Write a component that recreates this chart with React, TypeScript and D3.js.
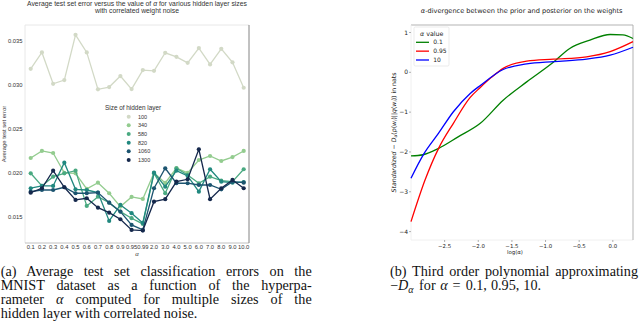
import React, { useLayoutEffect, useRef } from 'react';
import * as d3 from 'd3';

// ---------- Left chart data ----------
const alphaLabels = ['0.1','0.2','0.3','0.4','0.5','0.6','0.7','0.8','0.9','0.95','0.99','2.0','3.0','4.0','5.0','6.0','7.0','8.0','9.0','10.0'];
const hiddenSizes = ['100','340','580','820','1060','1300'];
const err100 = [0.03182,0.03368,0.03011,0.03053,0.03568,0.03368,0.02948,0.02974,0.03099,0.02951,0.03167,0.03159,0.03364,0.03318,0.0325,0.03417,0.03232,0.03409,0.03255,0.02966];
const err340 = [0.02167,0.02247,0.02224,0.01997,0.01993,0.01815,0.01886,0.01766,0.01614,0.01724,0.01701,0.01997,0.01883,0.02053,0.01997,0.02144,0.0219,0.02133,0.02178,0.02247];
const err580 = [0.01993,0.01849,0.01955,0.01993,0.02023,0.01622,0.01727,0.01659,0.01557,0.01482,0.01417,0.01993,0.01766,0.0205,0.01974,0.0188,0.01955,0.01909,0.01898,0.02039];
const err820 = [0.01823,0.01849,0.01849,0.02114,0.01811,0.01803,0.01773,0.01451,0.01633,0.01539,0.01428,0.02,0.01841,0.02023,0.01963,0.01784,0.02039,0.01898,0.01886,0.01894];
const err1060 = [0.01784,0.01803,0.01803,0.01834,0.01766,0.01766,0.01773,0.01659,0.01557,0.01406,0.01349,0.01823,0.0205,0.0188,0.0188,0.0186,0.0186,0.01811,0.01898,0.01886];
const err1300 = [0.01773,0.01823,0.02023,0.01834,0.0169,0.01709,0.01602,0.01545,0.0147,0.01349,0.01341,0.0167,0.01698,0.01898,0.01925,0.02266,0.01698,0.01823,0.01917,0.01823];
const errTicks = [0.015, 0.020, 0.025, 0.030, 0.035];
const sizeColors = ['#d2d9c6', '#93cc8f', '#4aa981', '#21887f', '#1c5470', '#15284c'];

// ---------- Right chart data ----------
const curveAlphas = ['0.1', '0.95', '10'];
const logA01 = [-3.0, -2.82, -2.59, -2.3, -1.97, -1.63, -1.28, -0.88, -0.64, -0.34, -0.04, 0.15, 0.3];
const div01 = [-2.10, -2.07, -1.91, -1.62, -1.28, -0.70, -0.24, 0.26, 0.60, 0.81, 0.95, 0.94, 0.85];
const logA095 = [-3.0, -2.79, -2.59, -2.37, -2.12, -1.97, -1.8, -1.63, -1.28, -0.88, -0.39, -0.04, 0.3];
const div095 = [-3.75, -2.70, -1.91, -1.28, -0.63, -0.38, -0.12, 0.10, 0.28, 0.33, 0.39, 0.52, 0.77];
const logA10 = [-3.0, -2.82, -2.59, -2.37, -2.12, -1.97, -1.63, -1.28, -0.88, -0.39, -0.04, 0.3];
const div10 = [-2.66, -2.08, -1.53, -0.99, -0.53, -0.33, 0.07, 0.21, 0.27, 0.33, 0.43, 0.63];
const logATicks = [-2.5, -2.0, -1.5, -1.0, -0.5, 0.0];
const divTicks = [1, 0, -1, -2, -3, -4];
const curveColors = ['#008000', '#ff0000', '#0000ff'];

const SANS = 'Liberation Sans, Arial, sans-serif';
const DJ = 'DejaVu Sans, sans-serif';
const SERIF = 'Liberation Serif, Times New Roman, serif';

function LeftChart() {
  const series = [err100, err340, err580, err820, err1060, err1300];
  const x = d3.scalePoint<string>().domain(alphaLabels).range([30.7, 243.7]);
  const y = d3.scaleLinear().domain([0.0120, 0.0368]).range([243, 25]);
  const line = d3.line<number>().x((_, i) => x(alphaLabels[i]) as number).y(d => y(d));
  const fmt = d3.format('.3f');
  const L = 25, R = 249, T = 25, B = 243;
  return (
    <g>
      <text x={137} y={5.5} textAnchor="middle" fontFamily={SANS} fontSize={6.8} fill="#333">
        Average test set error versus the value of <tspan fontStyle="italic">α</tspan> for various hidden layer sizes
      </text>
      <text x={137} y={13.2} textAnchor="middle" fontFamily={SANS} fontSize={6.8} fill="#333">with correlated weight noise</text>
      <line x1={L} x2={R} y1={T} y2={T} stroke="#e8e8e8" strokeWidth={1} />
      <line x1={L} x2={L} y1={T} y2={B} stroke="#e8e8e8" strokeWidth={1} />
      <line x1={L} x2={R} y1={B} y2={B} stroke="#b0b0b0" strokeWidth={0.8} />
      <line x1={R} x2={R} y1={T} y2={B} stroke="#777" strokeWidth={0.9} />
      {errTicks.map(t => (
        <text key={t} x={22.5} y={y(t) + 2} textAnchor="end" fontFamily={SANS} fontSize={5.8} fill="#333">{fmt(t)}</text>
      ))}
      {alphaLabels.map(a => (
        <text key={a} x={x(a)} y={249.3} textAnchor="middle" fontFamily={SANS} fontSize={5.8} fill="#333">{a}</text>
      ))}
      <text x={137} y={256} textAnchor="middle" fontFamily={SANS} fontSize={6} fontStyle="italic" fill="#333">α</text>
      <text transform="translate(6,134) rotate(-90)" textAnchor="middle" fontFamily={SANS} fontSize={5.9} fill="#333">Average test set error</text>
      {series.map((s, si) => (
        <g key={si}>
          <path d={line(s) as string} fill="none" stroke={sizeColors[si]} strokeWidth={1.3} />
          {s.map((v, i) => (
            <circle key={i} cx={x(alphaLabels[i])} cy={y(v)} r={2.1} fill={sizeColors[si]} />
          ))}
        </g>
      ))}
      <text x={105} y={110} fontFamily={SANS} fontSize={6.4} fill="#333">Size of hidden layer</text>
      {hiddenSizes.map((s, i) => (
        <g key={s}>
          <circle cx={128.7} cy={116.7 + i * 8.66} r={2} fill={sizeColors[i]} />
          <text x={138} y={116.7 + i * 8.66 + 1.9} fontFamily={SANS} fontSize={5.5} fill="#333">{s}</text>
        </g>
      ))}
    </g>
  );
}

function RightChart() {
  const x = d3.scaleLinear().domain([-3.0, 0.3]).range([411, 633]);
  const y = d3.scaleLinear().domain([1, -4]).range([32.5, 231.6]);
  const L = 411, R = 633, T = 25, B = 240;
  const data = [
    logA01.map((v, i) => [v, div01[i]] as [number, number]),
    logA095.map((v, i) => [v, div095[i]] as [number, number]),
    logA10.map((v, i) => [v, div10[i]] as [number, number]),
  ];
  const line = d3.line<[number, number]>().x(d => x(d[0])).y(d => y(d[1])).curve(d3.curveMonotoneX);
  const fy = d3.format('d');
  const fx = d3.format('.1f');
  return (
    <g>
      <text x={521.7} y={13.3} textAnchor="middle" fontFamily={DJ} fontSize={6.6} fill="#222">
        <tspan fontStyle="italic">α</tspan>-divergence between the prior and posterior on the weights
      </text>
      <line x1={L} x2={R} y1={T} y2={T} stroke="#aaa" strokeWidth={0.9} />
      <line x1={L} x2={L} y1={T} y2={B} stroke="#ececec" strokeWidth={0.8} />
      <line x1={L} x2={R} y1={B} y2={B} stroke="#ececec" strokeWidth={0.8} />
      <line x1={R} x2={R} y1={T} y2={B} stroke="#aaa" strokeWidth={0.9} />
      {divTicks.map(t => (
        <g key={t}>
          <line x1={409} x2={411} y1={y(t)} y2={y(t)} stroke="#666" strokeWidth={0.5} />
          <text x={408} y={y(t) + 2.1} textAnchor="end" fontFamily={DJ} fontSize={6} fill="#222">{fy(t)}</text>
        </g>
      ))}
      {logATicks.map(t => (
        <g key={t}>
          <line x1={x(t)} x2={x(t)} y1={B} y2={B + 2} stroke="#666" strokeWidth={0.5} />
          <text x={x(t)} y={248.3} textAnchor="middle" fontFamily={DJ} fontSize={5.4} fill="#222">{fx(t)}</text>
        </g>
      ))}
      <text x={515} y={254} textAnchor="middle" fontFamily={DJ} fontSize={5.4} fill="#222">log(α)</text>
      <text transform="translate(396,132.5) rotate(-90)" textAnchor="middle" fontFamily={DJ} fontSize={6.2} fill="#222">
        <tspan fontStyle="italic">Standardized</tspan> − <tspan fontStyle="italic">D</tspan><tspan fontStyle="italic" fontSize={4.4} dy={1.2}>α</tspan><tspan dy={-1.2}>(</tspan><tspan fontStyle="italic">p</tspan>(<tspan fontStyle="italic">w</tspan><tspan fontStyle="italic" fontSize={4.4} dy={1.2}>i</tspan><tspan dy={-1.2}>)||</tspan><tspan fontStyle="italic">q</tspan>(<tspan fontStyle="italic">w</tspan><tspan fontStyle="italic" fontSize={4.4} dy={1.2}>i</tspan><tspan dy={-1.2}>)) in nats</tspan>
      </text>
      {data.map((d, i) => (
        <path key={i} d={line(d) as string} fill="none" stroke={curveColors[i]} strokeWidth={1.3} />
      ))}
      <rect x={414} y={27} width={35} height={39} rx={1.5} fill="#fff" fillOpacity={0.85} stroke="#ddd" strokeWidth={0.6} />
      <text x={431.7} y={35.6} textAnchor="middle" fontFamily={DJ} fontSize={6.3} fill="#222"><tspan fontStyle="italic">α</tspan> value</text>
      {curveAlphas.map((a, i) => (
        <g key={a}>
          <line x1={416} x2={429} y1={42.3 + i * 8.85} y2={42.3 + i * 8.85} stroke={curveColors[i]} strokeWidth={1.3} />
          <text x={433.3} y={42.3 + i * 8.85 + 2.1} fontFamily={DJ} fontSize={6} fill="#222">{a}</text>
        </g>
      ))}
    </g>
  );
}

function JustifiedText({ x, y, width, text, children }: { x: number; y: number; width: number; text: string; children?: React.ReactNode }) {
  const ref = useRef<SVGTextElement>(null);
  useLayoutEffect(() => {
    const el = ref.current;
    if (!el) return;
    el.style.wordSpacing = '0px';
    const len = el.getComputedTextLength();
    const spaces = (text.match(/ /g) || []).length;
    if (spaces > 0 && len < width) {
      el.style.wordSpacing = `${(width - len) / spaces}px`;
    }
  }, [text, width]);
  return (
    <text ref={ref} x={x} y={y}>{children ?? text}</text>
  );
}

function Captions() {
  return (
    <g fontFamily={SERIF} fontSize={14.2} fill="#111">
      <JustifiedText x={0.7} y={275.5} width={311} text="(a) Average test set classification errors on the" />
      <JustifiedText x={0.7} y={289.7} width={311} text="MNIST dataset as a function of the hyperpa-" />
      <JustifiedText x={0.7} y={303.9} width={311} text="rameter α computed for multiple sizes of the">
        rameter <tspan fontStyle="italic">α</tspan> computed for multiple sizes of the
      </JustifiedText>
      <text x={0.7} y={318.1}>hidden layer with correlated noise.</text>
      <JustifiedText x={390} y={275.5} width={248} text="(b) Third order polynomial approximating" />
      <text x={390} y={289.7}>−<tspan fontStyle="italic">D</tspan><tspan fontStyle="italic" fontSize={10} dy={3}>α</tspan><tspan dy={-3} dx={2}> for </tspan><tspan fontStyle="italic" dx={1}>α</tspan><tspan dx={5}>=</tspan><tspan dx={5}>0.1,</tspan><tspan dx={4}>0.95,</tspan><tspan dx={4}>10.</tspan></text>
    </g>
  );
}

export default function App() {
  return (
    <svg width={640} height={328} viewBox="0 0 640 328" style={{ position: 'absolute', left: 0, top: 0, background: '#fff' }}>
      <rect x={0} y={0} width={640} height={328} fill="#fff" />
      <LeftChart />
      <RightChart />
      <Captions />
    </svg>
  );
}
